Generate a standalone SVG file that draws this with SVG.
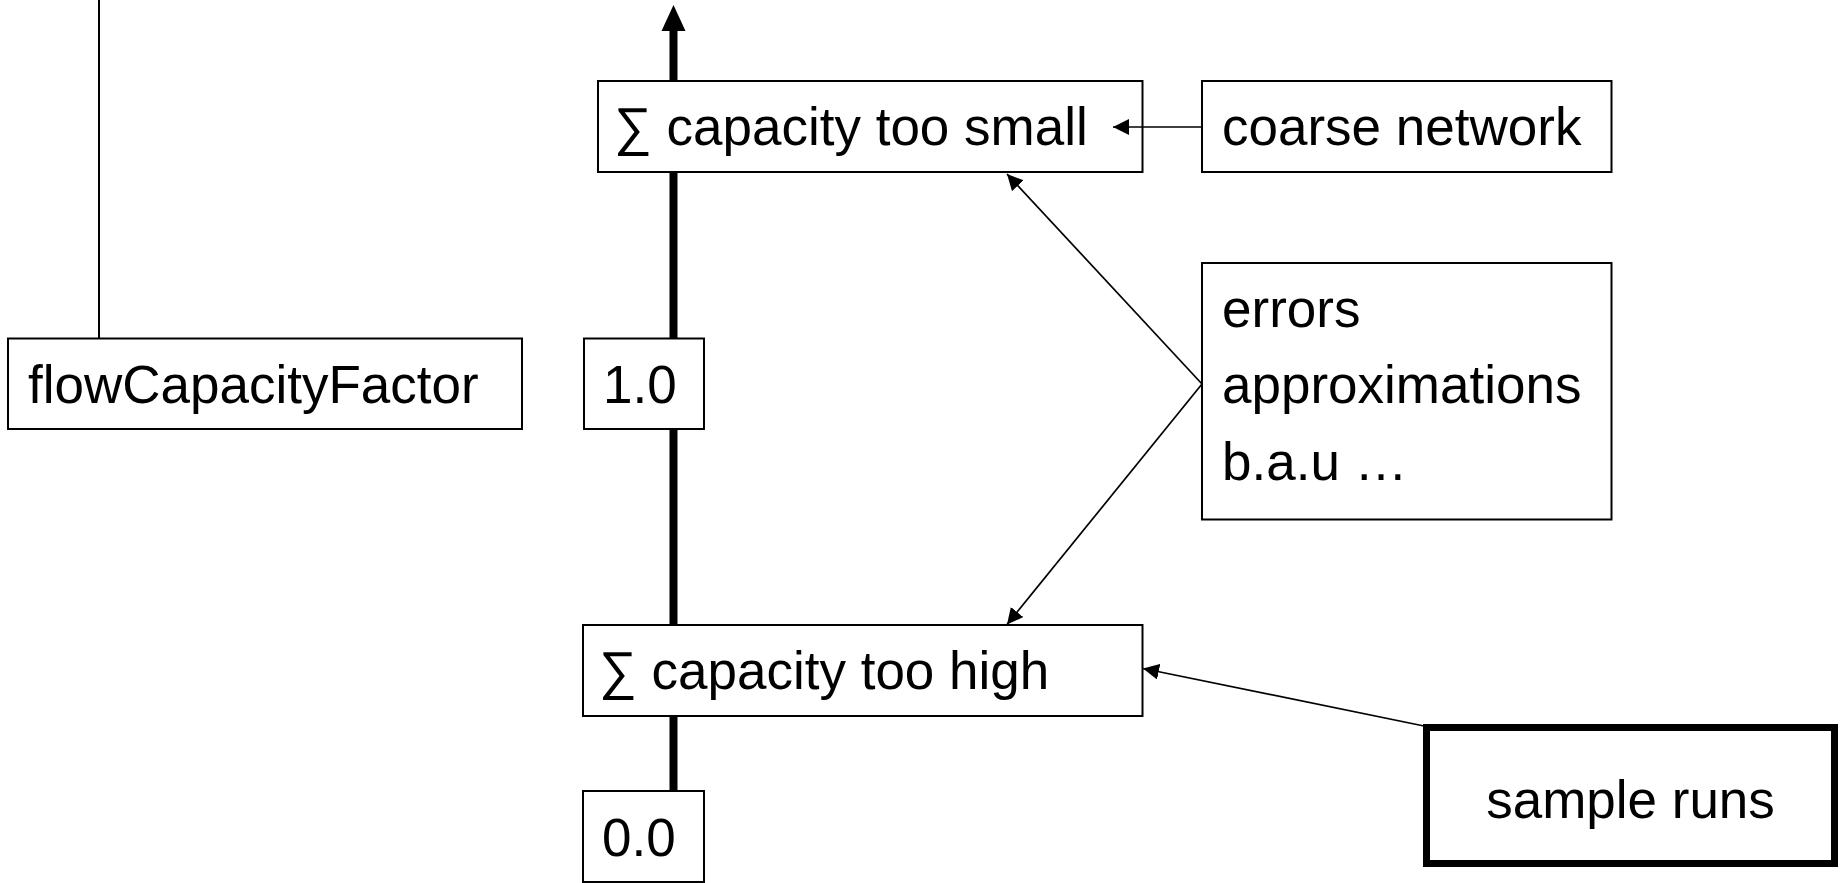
<svg xmlns="http://www.w3.org/2000/svg" width="1843" height="883" viewBox="0 0 1843 883">
<defs>
<style>
.box{fill:#fff;stroke:#000;stroke-width:2}
.thick{fill:#fff;stroke:#000;stroke-width:7}
.t{font-family:"Liberation Sans",Arial,Helvetica,sans-serif;font-size:53px;fill:#000}
.c{fill:none;stroke:#000;stroke-width:1.7}
</style>
<marker id="ah" viewBox="0 0 16 16" refX="16" refY="8" markerWidth="16" markerHeight="16" markerUnits="userSpaceOnUse" orient="auto">
<path d="M0,0 L16,8 L0,16 Z" fill="#000"/>
</marker>
</defs>
<rect width="1843" height="883" fill="#fff"/>
<g id="axis">
<line x1="673.5" y1="28" x2="673.5" y2="791" stroke="#000" stroke-width="8"/>
<polygon points="673.5,5 661.5,31 685.5,31" fill="#000"/>
</g>
<g id="flowCapacityFactor">
<rect class="box" x="8" y="338.5" width="514" height="90.5"/>
<text class="t" x="28" y="403">flowCapacityFactor</text>
</g>
<g id="v10">
<rect class="box" x="584" y="338.5" width="120" height="90.5"/>
<text class="t" x="603" y="403">1.0</text>
</g>
<g id="tooSmall">
<rect class="box" x="598" y="81" width="544.5" height="91"/>
<text class="t" x="614" y="145">∑ capacity too small</text>
</g>
<g id="coarse">
<rect class="box" x="1202" y="81" width="409.5" height="91"/>
<text class="t" x="1222" y="145">coarse network</text>
</g>
<g id="errors">
<rect class="box" x="1202" y="263" width="409.5" height="256.5"/>
<text class="t" x="1222" y="327">errors</text>
<text class="t" x="1222" y="403">approximations</text>
<text class="t" x="1222" y="479.5">b.a.u …</text>
</g>
<g id="tooHigh">
<rect class="box" x="583" y="625" width="559.5" height="91"/>
<text class="t" x="599" y="689">∑ capacity too high</text>
</g>
<g id="v00">
<rect class="box" x="583" y="791" width="121" height="91"/>
<text class="t" x="602" y="856">0.0</text>
</g>
<g id="sampleRuns">
<rect class="thick" x="1426.5" y="727.5" width="408" height="136"/>
<text class="t" x="1630.5" y="818" text-anchor="middle">sample runs</text>
</g>
<g id="connectors">
<line x1="99" y1="0" x2="99" y2="338.5" stroke="#000" stroke-width="2"/>
<line class="c" x1="1202" y1="127" x2="1113" y2="127" marker-end="url(#ah)"/>
<line class="c" x1="1202" y1="384" x2="1007" y2="174" marker-end="url(#ah)"/>
<line class="c" x1="1202" y1="384" x2="1007" y2="624.5" marker-end="url(#ah)"/>
<line class="c" x1="1424" y1="726" x2="1143" y2="668.5" marker-end="url(#ah)"/>
</g>
</svg>
